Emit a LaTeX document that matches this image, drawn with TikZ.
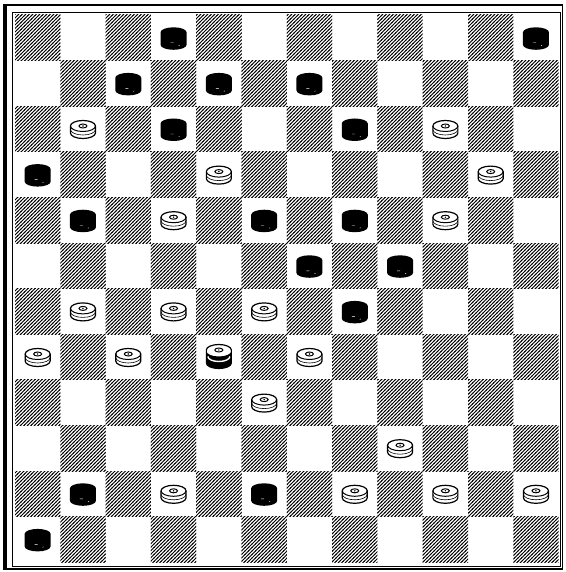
\documentclass[tikz,border=0pt]{standalone}
\usetikzlibrary{patterns.meta}

\tikzdeclarepattern{
  name=boardhatch,
  type=uncolored,
  bounding box={(-1pt,-1pt) and (4.5pt,4.5pt)},
  tile size={(3.5pt,3.5pt)},
  code={\draw[line width=0.9pt] (-0.5pt,-0.5pt) -- (4pt,4pt);}
}

\begin{document}
\begin{tikzpicture}[
    x=1pt, y=-1pt,
    darksq/.style={pattern=boardhatch, pattern color=black},
    blackman/.pic={
      \fill (-13,-5.5) arc[start angle=180, end angle=360, x radius=13, y radius=5]
        -- (13,7) arc[start angle=0, end angle=180, x radius=13, y radius=5] -- cycle;
      \draw[white, line width=0.4pt] (-3,5) -- (0,5) (5,8) -- (6,7.5);
    },
    whiteman/.pic={
      \filldraw[fill=white, line width=1.2pt] (-12.5,-3) arc[start angle=180, end angle=360, x radius=12.5, y radius=5.5]
        -- (12.5,4) arc[start angle=0, end angle=180, x radius=12.5, y radius=5.5] -- cycle;
      \draw[line width=1pt] (-12.5,-3) arc[start angle=180, end angle=0, x radius=12.5, y radius=5.5];
      \draw[line width=0.6pt] (-12.5,0.5) arc[start angle=180, end angle=0, x radius=12.5, y radius=5.5];
      \draw[line width=1pt] (0,-3) ellipse[x radius=4, y radius=2];
      \fill (0,-3) circle (0.8);
    },
    whiteking/.pic={
      \filldraw[fill=white, line width=1.2pt] (-12.5,-7) arc[start angle=180, end angle=360, x radius=12.5, y radius=5.5]
        -- (12.5,6) arc[start angle=0, end angle=180, x radius=12.5, y radius=5.5] -- cycle;
      \fill (-12.5,-6) arc[start angle=180, end angle=0, x radius=12.5, y radius=5.5]
        -- (12.5,6) arc[start angle=0, end angle=180, x radius=12.5, y radius=5.5] -- cycle;
      \draw[white, line width=1.4pt] (-11,-0.5) arc[start angle=180, end angle=0, x radius=11, y radius=5];
      \draw[line width=1pt] (0,-7) ellipse[x radius=4, y radius=2];
      \fill (0,-7) circle (0.8);
    }
  ]
  \useasboundingbox (0,0) rectangle (565,572);

  % squares
  \foreach \r in {0,...,11}
    \foreach \c in {0,2,...,10} {
      \pgfmathtruncatemacro\cc{\c+mod(\r,2)}
      \fill[darksq] ({15+45.3*\cc},{15+45.6*\r}) rectangle ++(45.3,45.6);
    }

  % frame
  \draw[line width=0.8pt] (12,12.5) rectangle (560,566);
  \draw[line width=1.6pt] (5,5) rectangle (562.5,569);
  \draw[line width=3.5pt] (5,4.2) -- (5,569.8);
  \draw[line width=2.5pt] (4,5) -- (562.5,5);

  % men
  \foreach \r/\c in {0/3,0/11,1/2,1/4,1/6,2/3,2/7,3/0,4/1,4/5,4/7,5/6,5/8,6/7,10/1,10/5,11/0}
    \pic at ({15+45.3*(\c+0.5)},{15+45.6*(\r+0.5)}) {blackman};
  \foreach \r/\c in {2/1,2/9,3/4,3/10,4/3,4/9,6/1,6/3,6/5,7/0,7/2,7/6,8/5,9/8,10/3,10/7,10/9,10/11}
    \pic at ({15+45.3*(\c+0.5)},{15+45.6*(\r+0.5)}) {whiteman};
  \pic at ({15+45.3*4.5},{15+45.6*7.5}) {whiteking};
\end{tikzpicture}
\end{document}
